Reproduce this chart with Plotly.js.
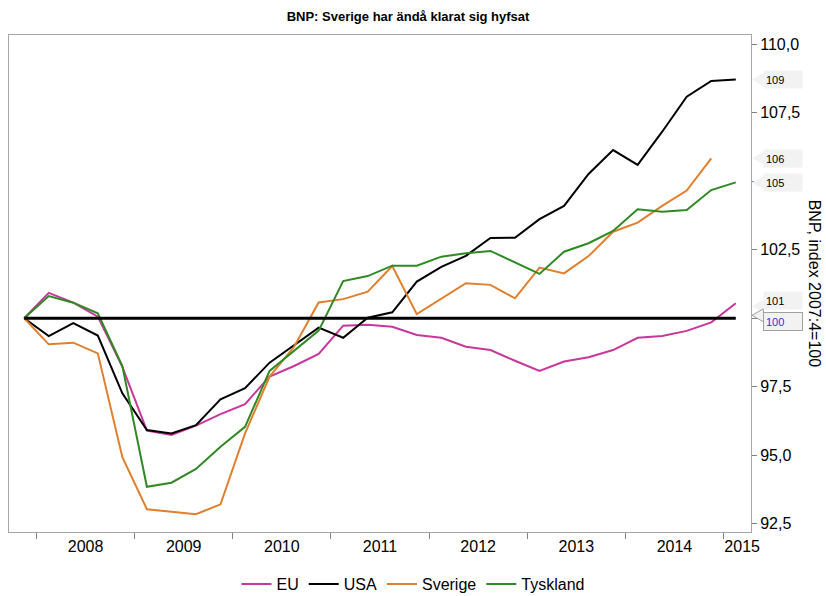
<!DOCTYPE html>
<html><head><meta charset="utf-8">
<script src="https://cdn.plot.ly/plotly-3.0.1.min.js"></script>
<style>html,body{margin:0;padding:0;background:#fff}#chart{width:826px;height:596px}</style>
</head><body><div id="chart"></div>
<script>
// Quarters 2007:4 .. 2015:1
const quarters = ['2007:4',
  '2008:1','2008:2','2008:3','2008:4',
  '2009:1','2009:2','2009:3','2009:4',
  '2010:1','2010:2','2010:3','2010:4',
  '2011:1','2011:2','2011:3','2011:4',
  '2012:1','2012:2','2012:3','2012:4',
  '2013:1','2013:2','2013:3','2013:4',
  '2014:1','2014:2','2014:3','2014:4',
  '2015:1'];
const yearLabels = ['2008','2009','2010','2011','2012','2013','2014','2015'];
const seriesNames = ['EU','USA','Sverige','Tyskland'];
const eu = [100, 100.93, 100.57, 100.06, 98.23, 95.90, 95.74, 96.08, 96.50, 96.87, 97.87, 98.26, 98.70, 99.73, 99.76, 99.69, 99.39, 99.29, 98.96, 98.84, 98.45, 98.08, 98.42, 98.58, 98.84, 99.29, 99.35, 99.54, 99.85, 100.55];
const usa = [100, 99.35, 99.82, 99.37, 97.26, 95.92, 95.80, 96.10, 97.04, 97.45, 98.38, 99.03, 99.66, 99.29, 100.02, 100.22, 101.34, 101.88, 102.28, 102.93, 102.94, 103.62, 104.10, 105.27, 106.14, 105.60, 106.81, 108.09, 108.66, 108.72];
const sverige = [100, 99.05, 99.11, 98.72, 94.93, 93.03, 92.94, 92.85, 93.21, 95.80, 97.87, 98.96, 100.58, 100.70, 100.97, 101.91, 100.15, 100.73, 101.28, 101.22, 100.73, 101.85, 101.64, 102.27, 103.16, 103.49, 104.10, 104.66, 105.84];
const tyskland = [100, 100.81, 100.57, 100.18, 98.26, 93.85, 94.00, 94.50, 95.31, 96.04, 98.08, 98.81, 99.55, 101.36, 101.54, 101.92, 101.92, 102.25, 102.37, 102.46, 102.04, 101.62, 102.43, 102.74, 103.19, 103.98, 103.89, 103.95, 104.68, 104.96];
const baseValue = 100;
const yTicks = [92.5, 95, 97.5, 100, 102.5, 105, 107.5, 110];

const seriesData = [eu, usa, sverige, tyskland];
const colors = ['#c8379b', '#000000', '#e07f2e', '#2f8a23'];
const FONT = 'Liberation Sans, Arial, sans-serif';
const xIdx = quarters.map((q, i) => i);
const xMin = -0.62, xMax = 29.62;

// year label positions: centre of each year's quarters block
const yearPos = yearLabels.map(y => {
  const idx = quarters.map((q, i) => q.startsWith(y) ? i : -1).filter(i => i >= 0);
  const start = idx[0] - 0.5;
  return idx.length === 4 ? start + 2 : (start + xMax) / 2 + 0.2;
});
const yearBounds = yearLabels.map(y => quarters.findIndex(q => q.startsWith(y)) - 0.5);

const traces = seriesData.map((d, k) => ({
  type: 'scatter', mode: 'lines', name: seriesNames[k],
  x: xIdx.slice(0, d.length), y: d,
  line: {color: colors[k], width: 2},
  text: quarters.slice(0, d.length), hoverinfo: 'text+y+name'
}));

// end labels
const labels = seriesData.map((d, k) => ({v: d[d.length - 1], txt: String(Math.round(d[d.length - 1])), color: '#000', border: false}));
labels.push({v: baseValue, txt: String(baseValue), color: '#3333cc', border: true});
const shifts = [3, 0, 0, 0, -3];

// tick labels hidden where an end label box covers them (as in the reference)
const yTickText = yTicks.map(v => labels.some(l => Math.abs(l.v - v) < 0.1 || (Math.round(l.v) === v && Math.abs(l.v - v) < 0.3)) ? '' : v.toFixed(1).replace('.', ','));

const boxX = (763 - 9) / 742;
const tipX = (752 - 9) / 742;
const annotations = labels.map((l, i) => ({
  xref: 'paper', yref: 'y', x: boxX, y: l.v, xanchor: 'left', yanchor: 'middle',
  yshift: shifts[i], text: l.txt, showarrow: false, align: 'left', valign: 'middle', width: 34, height: 13,
  font: {family: FONT, size: 11, color: l.color},
  bgcolor: '#f2f2f2', bordercolor: l.border ? '#a0a0a0' : 'rgba(0,0,0,0)', borderwidth: 1, borderpad: 2
}));
annotations.push({
  xref: 'paper', yref: 'paper', x: 1.086, y: 0.5, textangle: 90, showarrow: false,
  text: 'BNP, index 2007:4=100', font: {family: FONT, size: 16, color: '#000'},
  xanchor: 'center', yanchor: 'middle'
});

const shapes = labels.map((l, i) => ({
  type: 'path', layer: 'above',
  xref: 'paper', yref: 'y', xsizemode: 'pixel', ysizemode: 'pixel',
  xanchor: tipX, yanchor: l.v,
  path: `M0,${-shifts[i]} L11.5,${-shifts[i] + 6.5} L11.5,${-shifts[i] - 6.5} Z`,
  fillcolor: '#f2f2f2', line: {color: l.border ? '#a0a0a0' : 'rgba(0,0,0,0)', width: 1}
}));
shapes.push({
  type: 'line', xref: 'x', yref: 'y', layer: 'above',
  x0: 0, x1: quarters.length - 1, y0: baseValue, y1: baseValue,
  line: {color: '#000', width: 3}
});

const layout = {
  width: 826, height: 596,
  margin: {l: 9, r: 75, t: 35, b: 64},
  paper_bgcolor: '#fff', plot_bgcolor: '#fff',
  separators: ',.',
  font: {family: FONT, size: 16, color: '#000'},
  title: {text: '<b>BNP: Sverige har ändå klarat sig hyfsat</b>', font: {family: FONT, size: 13, color: '#000'},
          xref: 'container', x: 0.494, y: 1 - 16 / 596, yanchor: 'middle'},
  xaxis: {
    range: [xMin, xMax], showgrid: false, zeroline: false, automargin: false,
    showline: true, linecolor: '#a6a6a6', linewidth: 1, mirror: true,
    tickmode: 'array', tickvals: yearPos, ticktext: yearLabels, ticks: '',
    tickfont: {family: FONT, size: 16, color: '#000'},
    minor: {tickmode: 'array', tickvals: yearBounds, ticks: 'outside', ticklen: 6, tickwidth: 1, tickcolor: '#808080', showgrid: false}
  },
  yaxis: {
    side: 'right', range: [92.2, 110.34], showgrid: false, zeroline: false, automargin: false,
    showline: true, linecolor: '#a6a6a6', linewidth: 1, mirror: true,
    tickmode: 'array', tickvals: yTicks, ticktext: yTickText,
    ticks: 'outside', ticklen: 5, tickcolor: '#808080',
    tickfont: {family: FONT, size: 16, color: '#000'}
  },
  legend: {orientation: 'h', xref: 'container', yref: 'container', x: 0.5, xanchor: 'center', y: 1 - 584 / 596, yanchor: 'middle',
           font: {family: FONT, size: 16, color: '#000'}, itemwidth: 30},
  showlegend: true,
  annotations: annotations,
  shapes: shapes
};

Plotly.newPlot('chart', traces, layout, {displayModeBar: false, staticPlot: true});
</script></body></html>
